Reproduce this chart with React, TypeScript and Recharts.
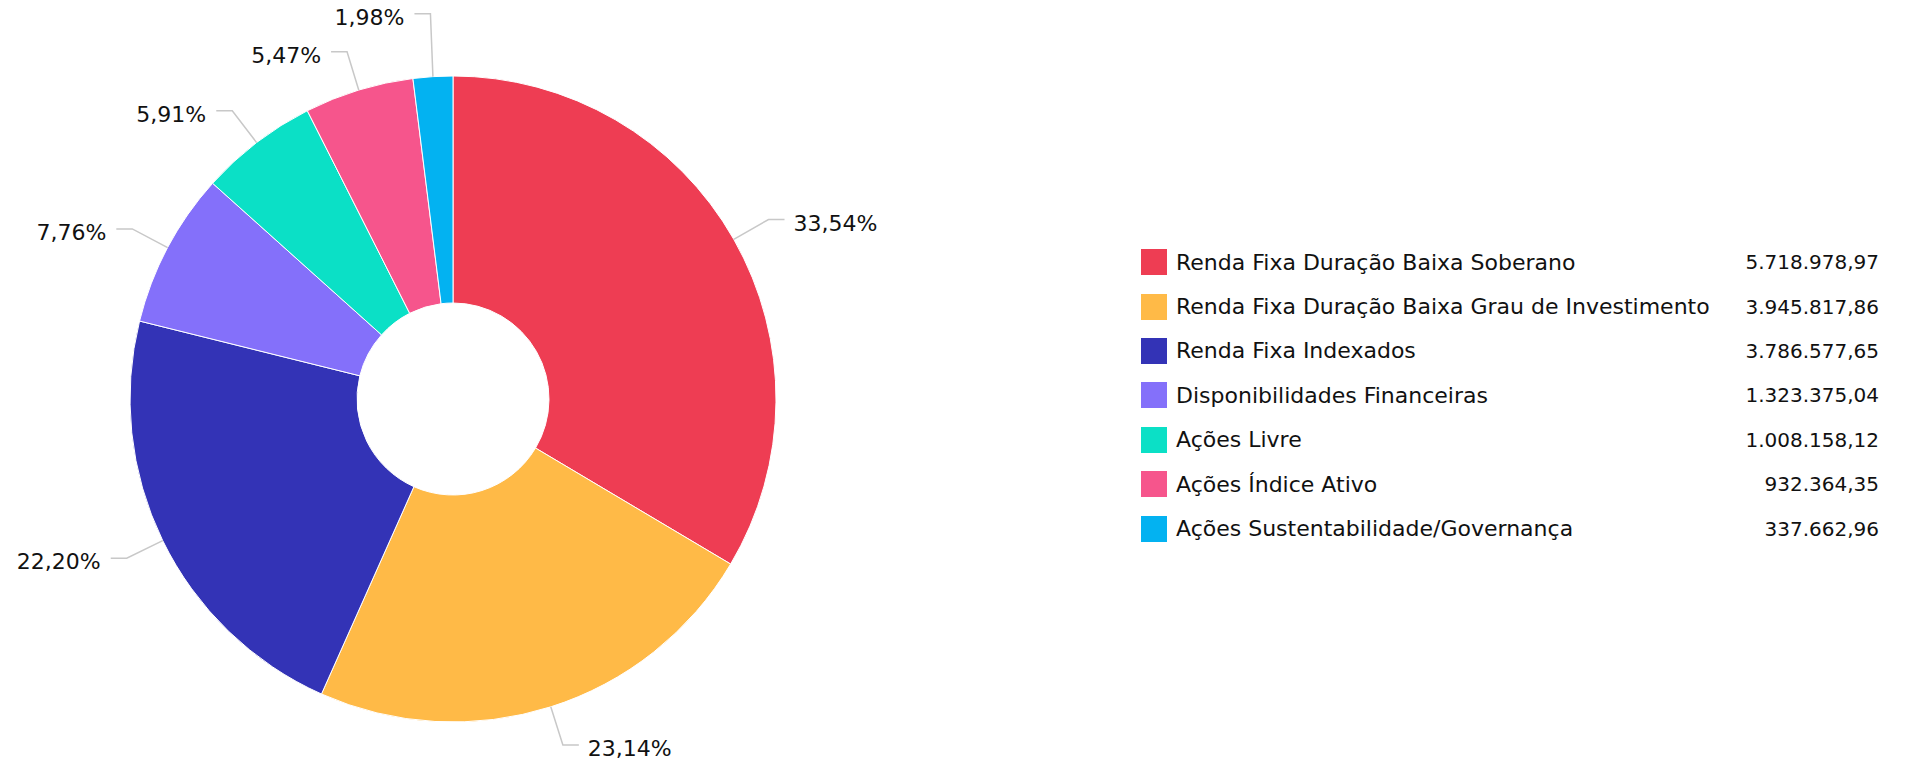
import React from "react";
import { PieChart, Pie, Cell, Legend } from "recharts";

const categories = [
  "Renda Fixa Duração Baixa Soberano",
  "Renda Fixa Duração Baixa Grau de Investimento",
  "Renda Fixa Indexados",
  "Disponibilidades Financeiras",
  "Ações Livre",
  "Ações Índice Ativo",
  "Ações Sustentabilidade/Governança",
];

const amounts = [
  5718978.97, 3945817.86, 3786577.65, 1323375.04, 1008158.12, 932364.35, 337662.96,
];

const colors = ["#EE3D53", "#FFBA47", "#3333B6", "#8470FA", "#0BE0C6", "#F6558C", "#03B2F1"];

const data = categories.map((name, i) => ({ name, value: amounts[i] }));
const total = amounts.reduce((a, b) => a + b, 0);

const CX = 453;
const CY = 399;
const OUTER = 323;
const INNER = 96;
const ELBOW_OFFSET = 40;
const HSEG = 16;
const MIN_GAP = 38;
const RAD = Math.PI / 180;
const FONT = "'DejaVu Sans', Verdana, sans-serif";

const fmtPct = (p: number) => (p * 100).toFixed(2).replace(".", ",") + "%";
const fmtMoney = (v: number) => {
  const [int, dec] = v.toFixed(2).split(".");
  return int.replace(/\B(?=(\d{3})+(?!\d))/g, ".") + "," + dec;
};

// compute label elbow positions with simple collision avoidance
function layoutLabels(cx: number, cy: number, r: number) {
  let cum = 0;
  const items = amounts.map((v, i) => {
    const mid = 90 - (360 * (cum + v / 2)) / total;
    cum += v;
    const x = cx + r * Math.cos(-mid * RAD);
    const y = cy + r * Math.sin(-mid * RAD);
    return { i, x, y, left: x < cx };
  });
  const left = items.filter((d) => d.left).sort((a, b) => b.y - a.y);
  for (let k = 1; k < left.length; k++) {
    if (left[k].y > left[k - 1].y - MIN_GAP) left[k].y = left[k - 1].y - MIN_GAP;
  }
  const right = items.filter((d) => !d.left).sort((a, b) => a.y - b.y);
  for (let k = 1; k < right.length; k++) {
    if (right[k].y < right[k - 1].y + MIN_GAP) right[k].y = right[k - 1].y + MIN_GAP;
  }
  const out: { x: number; y: number; left: boolean }[] = [];
  items.forEach((d) => (out[d.i] = d));
  return out;
}

const renderLabel = (props: any) => {
  const { cx, cy, midAngle, outerRadius, index, percent } = props;
  const layout = layoutLabels(cx, cy, outerRadius + ELBOW_OFFSET);
  const sx = cx + outerRadius * Math.cos(-midAngle * RAD);
  const sy = cy + outerRadius * Math.sin(-midAngle * RAD);
  const e = layout[index];
  const ex = e.x;
  const ey = e.y;
  const hx = e.left ? ex - HSEG : ex + HSEG;
  const tx = e.left ? hx - 10 : hx + 9;
  return (
    <g key={`lbl-${index}`}>
      <path
        d={`M${sx},${sy}L${ex},${ey}L${hx},${ey}`}
        stroke="#c8c8c8"
        strokeWidth={1.5}
        fill="none"
      />
      <text
        x={tx}
        y={ey + 11}
        textAnchor={e.left ? "end" : "start"}
        fontFamily={FONT}
        fontSize={22}
        fill="#111"
      >
        {fmtPct(percent)}
      </text>
    </g>
  );
};

const ROW_H = 44.4;

const LegendContent = () => (
  <div style={{ fontFamily: FONT, color: "#111" }}>
    {categories.map((name, i) => (
      <div
        key={name}
        style={{ height: ROW_H, display: "flex", alignItems: "center", width: 738 }}
      >
        <div style={{ width: 26, height: 26, background: colors[i], flex: "0 0 auto" }} />
        <div style={{ marginLeft: 9, fontSize: 22, whiteSpace: "nowrap", flex: "1 1 auto" }}>
          {name}
        </div>
        <div style={{ fontSize: 20, whiteSpace: "nowrap", textAlign: "right" }}>
          {fmtMoney(amounts[i])}
        </div>
      </div>
    ))}
  </div>
);

export default function App() {
  return (
    <div style={{ position: "absolute", left: 0, top: 0, width: 1910, height: 763, background: "#fff" }}>
      <PieChart width={1910} height={763} margin={{ top: 0, right: 0, bottom: 0, left: 0 }}>
        <Pie
          data={data}
          dataKey="value"
          nameKey="name"
          cx={CX}
          cy={CY}
          innerRadius={INNER}
          outerRadius={OUTER}
          startAngle={90}
          endAngle={-270}
          stroke="#ffffff"
          strokeWidth={1}
          label={renderLabel}
          labelLine={false}
          isAnimationActive={false}
        >
          {data.map((d, i) => (
            <Cell key={d.name} fill={colors[i]} />
          ))}
        </Pie>
        <Legend
          layout="vertical"
          align="right"
          verticalAlign="top"
          content={<LegendContent />}
          wrapperStyle={{ left: 1141, top: 240, right: "auto", width: 738 }}
        />
      </PieChart>
    </div>
  );
}
